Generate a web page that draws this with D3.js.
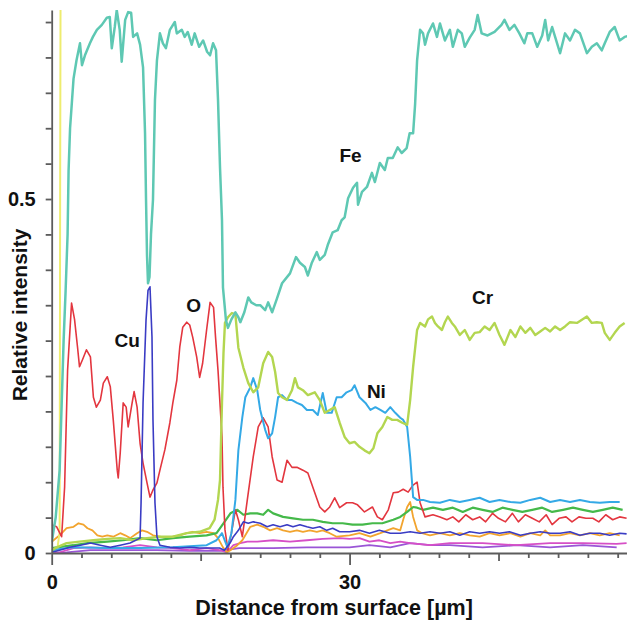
<!DOCTYPE html>
<html>
<head>
<meta charset="utf-8">
<script src="https://cdn.jsdelivr.net/npm/d3@7"></script>
<style>
body { margin: 0; background: #fff; }
text { font-family: "Liberation Sans", Arial, sans-serif; font-weight: bold; fill: #111; }
</style>
</head>
<body>
<svg id="wrapper"></svg>
<script>
// element names and the label spot for each (labels only where the source has one)
let seriesNames = ['Fe', 'O', 'Cu', 'Cr', 'Ni', 'green', 'orange', 'magenta', 'purple', 'yellow'];
let labelNames = ['Fe', 'Cu', 'O', 'Ni', 'Cr'];
let labelPos = [[30.1, 0.561], [7.6, 0.30], [14.3, 0.35], [32.7, 0.228], [43.4, 0.361]];

// axis ticks
let xTicks = [0, 3, 6, 9, 12, 15, 18, 21, 24, 27, 30, 33, 36, 39, 42, 45, 48, 51, 54, 57];
let xTickLabels = [0, 30];
let yTicks = [0, 0.05, 0.1, 0.15, 0.2, 0.25, 0.3, 0.35, 0.4, 0.45, 0.5, 0.55, 0.6, 0.65, 0.7, 0.75];
let yTickLabels = [0, 0.5];

// line scan values [distance um, relative intensity]
let feData = [[0,0.015],[0.4,0.05],[0.8,0.117],[1.2,0.30],[1.4,0.37],[1.6,0.45],[1.7,0.54],[1.85,0.60],[2.05,0.64],[2.2,0.67],[2.5,0.696],[2.85,0.72],[3.05,0.689],[3.35,0.703],[3.85,0.72],[4.15,0.729],[4.55,0.739],[5.05,0.746],[5.55,0.756],[5.85,0.757],[6.05,0.713],[6.35,0.743],[6.55,0.767],[6.85,0.739],[7.05,0.694],[7.4,0.753],[7.7,0.764],[8.0,0.763],[8.2,0.729],[8.6,0.734],[8.9,0.718],[9.2,0.686],[9.4,0.593],[9.5,0.499],[9.6,0.42],[9.7,0.381],[9.85,0.39],[10.0,0.45],[10.2,0.499],[10.4,0.640],[10.6,0.696],[10.9,0.734],[11.2,0.720],[11.5,0.713],[11.9,0.739],[12.4,0.750],[12.6,0.734],[13.1,0.739],[13.4,0.729],[13.7,0.736],[14.1,0.718],[14.4,0.734],[14.85,0.715],[15.25,0.724],[15.65,0.708],[15.95,0.703],[16.25,0.720],[16.55,0.710],[16.75,0.640],[16.95,0.545],[17.15,0.47],[17.25,0.375],[17.55,0.329],[17.75,0.318],[18.1,0.33],[18.5,0.340],[18.8,0.333],[19.0,0.326],[19.4,0.340],[19.8,0.361],[20.1,0.354],[20.6,0.350],[21.0,0.350],[21.5,0.343],[21.8,0.354],[22.2,0.340],[22.7,0.360],[23.2,0.381],[24.0,0.395],[24.6,0.418],[25.0,0.410],[25.5,0.404],[25.8,0.392],[26.2,0.410],[26.7,0.425],[27.0,0.414],[27.5,0.421],[27.8,0.435],[28.3,0.453],[28.8,0.456],[29.2,0.470],[29.5,0.474],[29.85,0.501],[30.35,0.516],[30.75,0.523],[30.85,0.492],[31.25,0.510],[31.75,0.517],[32.25,0.537],[32.55,0.524],[33.05,0.551],[33.55,0.541],[33.85,0.558],[34.35,0.558],[34.85,0.573],[35.25,0.565],[35.75,0.572],[36.05,0.593],[36.4,0.593],[36.6,0.634],[36.8,0.696],[37.1,0.739],[37.4,0.734],[37.6,0.718],[37.9,0.734],[38.4,0.748],[38.8,0.729],[39.1,0.748],[39.6,0.724],[40.1,0.739],[40.4,0.715],[40.9,0.739],[41.3,0.734],[41.6,0.715],[42.1,0.728],[42.6,0.739],[42.9,0.760],[43.3,0.734],[43.9,0.731],[44.6,0.736],[45.3,0.746],[45.6,0.753],[46.1,0.739],[46.6,0.746],[47.1,0.734],[47.6,0.720],[47.9,0.734],[48.4,0.734],[48.9,0.715],[49.4,0.731],[49.7,0.753],[50.0,0.724],[50.4,0.743],[50.7,0.729],[51.2,0.706],[51.7,0.734],[52.2,0.724],[52.7,0.739],[53.2,0.734],[53.9,0.706],[54.4,0.715],[54.9,0.720],[55.4,0.710],[55.7,0.720],[56.2,0.736],[56.7,0.743],[57.2,0.724],[57.7,0.729],[58,0.73]];

let oData = [[0,0.040],[0.5,0.037],[1.0,0.023],[1.3,0.093],[1.6,0.258],[2.0,0.353],[2.3,0.330],[2.6,0.291],[2.8,0.263],[3.1,0.273],[3.5,0.287],[3.9,0.277],[4.2,0.220],[4.5,0.206],[4.9,0.216],[5.2,0.240],[5.6,0.249],[5.9,0.235],[6.2,0.188],[6.6,0.117],[6.7,0.106],[6.9,0.141],[7.2,0.212],[7.5,0.206],[7.7,0.178],[8.1,0.212],[8.3,0.228],[8.6,0.206],[8.9,0.155],[9.2,0.127],[9.6,0.099],[9.9,0.079],[10.2,0.089],[10.6,0.099],[10.9,0.117],[11.4,0.146],[11.9,0.184],[12.2,0.212],[12.6,0.244],[12.9,0.291],[13.2,0.319],[13.6,0.326],[13.9,0.322],[14.2,0.305],[14.6,0.277],[14.9,0.248],[15.2,0.268],[15.6,0.315],[15.95,0.354],[16.3,0.347],[16.5,0.305],[16.75,0.258],[17.15,0.164],[17.25,0.093],[17.45,0.033],[17.75,0.004],[18.1,0.028],[18.5,0.061],[18.8,0.047],[19.2,0.023],[19.7,0.075],[20.3,0.136],[20.8,0.178],[21.3,0.191],[21.8,0.178],[22.2,0.136],[22.7,0.103],[23.2,0.100],[23.7,0.131],[24.2,0.121],[24.7,0.121],[25.3,0.117],[25.8,0.113],[26.3,0.093],[27.0,0.065],[27.5,0.058],[28.0,0.065],[28.5,0.078],[29.0,0.064],[29.7,0.071],[30.3,0.071],[30.8,0.068],[31.5,0.058],[32.3,0.065],[32.8,0.051],[33.3,0.047],[33.9,0.061],[34.4,0.085],[34.9,0.086],[35.4,0.090],[35.9,0.086],[36.4,0.096],[36.8,0.100],[37.1,0.071],[37.6,0.051],[38.4,0.054],[39.1,0.051],[39.8,0.047],[40.4,0.051],[41.0,0.044],[41.7,0.054],[42.4,0.047],[43.1,0.051],[43.7,0.044],[44.4,0.056],[45.0,0.049],[45.7,0.044],[46.4,0.056],[47.0,0.044],[47.7,0.054],[48.4,0.049],[49.1,0.044],[49.8,0.054],[50.4,0.040],[51.1,0.049],[51.8,0.051],[52.4,0.044],[53.1,0.051],[53.8,0.049],[54.5,0.049],[55.1,0.044],[55.8,0.054],[56.5,0.047],[57.2,0.051],[57.9,0.049]];

let cuData = [[0,0.001],[0.8,0.004],[1.8,0.008],[2.9,0.011],[3.9,0.014],[4.9,0.011],[5.9,0.008],[6.9,0.011],[7.9,0.014],[8.9,0.021],[9.0,0.071],[9.2,0.212],[9.5,0.329],[9.7,0.371],[9.9,0.376],[10.1,0.305],[10.2,0.188],[10.4,0.071],[10.6,0.023],[10.9,0.011],[11.9,0.008],[12.9,0.007],[13.9,0.008],[14.9,0.007],[15.9,0.007],[16.9,0.007],[17.4,0.004],[17.96,0.014],[18.3,0.023],[18.8,0.032],[19.3,0.044],[19.8,0.042],[20.3,0.044],[21.0,0.042],[21.7,0.037],[22.3,0.040],[23.0,0.037],[23.7,0.040],[24.3,0.037],[25.0,0.040],[25.7,0.037],[26.3,0.035],[27.0,0.037],[27.7,0.032],[28.3,0.035],[29.0,0.030],[30.0,0.030],[31.0,0.032],[32.0,0.028],[33.0,0.032],[34.1,0.028],[35.1,0.028],[36.1,0.030],[37.1,0.028],[38.1,0.030],[39.1,0.028],[40.1,0.030],[41.1,0.025],[42.1,0.030],[43.1,0.028],[44.1,0.030],[45.1,0.028],[46.1,0.030],[47.2,0.025],[48.2,0.028],[49.2,0.030],[50.2,0.028],[51.2,0.028],[52.2,0.030],[53.2,0.025],[54.2,0.028],[55.2,0.028],[56.2,0.025],[57.2,0.028],[57.9,0.027]];

let crData = [[0,0.004],[0.5,0.008],[1.5,0.014],[2.8,0.016],[4.2,0.018],[5.6,0.020],[6.9,0.021],[8.2,0.018],[9.6,0.021],[10.9,0.023],[12.2,0.023],[13.6,0.028],[14.9,0.030],[15.9,0.035],[16.4,0.047],[16.75,0.075],[16.95,0.103],[17.15,0.212],[17.3,0.282],[17.45,0.325],[17.75,0.333],[18.15,0.339],[18.5,0.337],[18.8,0.290],[19.3,0.262],[19.8,0.240],[20.3,0.227],[20.8,0.234],[21.3,0.268],[21.8,0.284],[22.2,0.277],[22.5,0.256],[22.8,0.226],[23.2,0.220],[23.7,0.216],[24.2,0.230],[24.5,0.247],[24.8,0.234],[25.3,0.230],[25.8,0.223],[26.5,0.227],[27.0,0.216],[27.5,0.198],[28.0,0.202],[28.5,0.206],[29.0,0.184],[29.5,0.164],[30.0,0.155],[30.5,0.157],[31.0,0.150],[31.5,0.145],[32.0,0.141],[32.4,0.148],[32.8,0.169],[33.3,0.178],[33.8,0.192],[34.3,0.188],[34.8,0.188],[35.3,0.184],[35.8,0.181],[36.1,0.216],[36.4,0.263],[36.8,0.315],[37.1,0.325],[37.6,0.320],[37.9,0.330],[38.3,0.334],[38.6,0.325],[38.9,0.320],[39.3,0.315],[39.6,0.326],[39.9,0.334],[40.3,0.325],[40.6,0.320],[41.1,0.308],[41.6,0.315],[42.1,0.301],[42.6,0.311],[43.1,0.312],[43.6,0.320],[44.1,0.315],[44.6,0.325],[45.1,0.308],[45.6,0.294],[46.2,0.315],[46.7,0.305],[47.2,0.320],[47.7,0.311],[48.2,0.318],[48.7,0.308],[49.2,0.313],[49.7,0.318],[50.2,0.313],[50.7,0.320],[51.2,0.315],[51.7,0.320],[52.2,0.326],[52.9,0.325],[53.9,0.334],[54.4,0.325],[54.9,0.326],[55.4,0.325],[55.7,0.311],[56.2,0.301],[56.7,0.311],[57.2,0.320],[57.7,0.325]];

let niData = [[0,0.004],[2.1,0.008],[5.6,0.007],[8.9,0.007],[12.2,0.008],[15.6,0.011],[16.6,0.018],[17.15,0.028],[17.7,0.008],[18.1,0.028],[18.5,0.075],[18.8,0.145],[19.2,0.192],[19.5,0.220],[20.0,0.234],[20.3,0.247],[20.7,0.230],[21.0,0.202],[21.5,0.174],[21.8,0.162],[22.2,0.169],[22.5,0.192],[22.8,0.220],[23.2,0.223],[23.7,0.216],[24.2,0.216],[24.7,0.212],[25.2,0.209],[25.7,0.202],[26.3,0.202],[26.8,0.195],[27.3,0.226],[27.7,0.198],[28.2,0.198],[28.7,0.220],[29.2,0.220],[29.7,0.227],[30.2,0.230],[30.5,0.237],[31.0,0.220],[31.6,0.212],[32.1,0.202],[32.6,0.206],[33.1,0.202],[33.6,0.198],[34.1,0.206],[34.6,0.198],[35.1,0.191],[35.4,0.188],[35.8,0.178],[36.1,0.136],[36.4,0.079],[36.8,0.075],[37.4,0.075],[38.1,0.072],[39.1,0.071],[40.1,0.075],[41.1,0.072],[42.1,0.075],[43.1,0.078],[44.1,0.072],[45.1,0.075],[46.2,0.072],[47.2,0.071],[48.2,0.075],[49.2,0.078],[50.2,0.072],[51.2,0.075],[52.2,0.072],[53.2,0.075],[54.2,0.072],[55.2,0.071],[56.2,0.072],[57.2,0.072]];

let greenData = [[0,0.007],[2.2,0.011],[3.6,0.014],[5.6,0.016],[7.2,0.018],[8.9,0.021],[10.6,0.018],[12.2,0.021],[13.9,0.023],[15.6,0.025],[16.6,0.028],[17.3,0.042],[18.0,0.056],[18.7,0.061],[19.3,0.054],[20.0,0.056],[20.7,0.056],[21.3,0.054],[21.8,0.061],[22.3,0.056],[23.3,0.051],[24.3,0.049],[25.3,0.047],[26.3,0.047],[27.3,0.044],[28.3,0.042],[29.3,0.042],[30.3,0.040],[31.3,0.040],[32.3,0.042],[33.3,0.042],[34.4,0.047],[35.1,0.051],[35.8,0.058],[36.4,0.065],[36.8,0.064],[37.4,0.061],[38.4,0.064],[39.4,0.061],[40.4,0.064],[41.4,0.058],[42.4,0.064],[43.4,0.061],[44.4,0.058],[45.4,0.064],[46.4,0.061],[47.4,0.058],[48.4,0.061],[49.4,0.064],[50.4,0.058],[51.5,0.061],[52.5,0.064],[53.5,0.061],[54.5,0.058],[55.5,0.061],[56.5,0.064],[57.5,0.061]];

let orangeData = [[0,0.016],[0.8,0.025],[1.5,0.035],[2.2,0.037],[2.7,0.042],[3.2,0.040],[3.6,0.035],[4.1,0.032],[4.6,0.025],[5.1,0.023],[5.6,0.025],[6.2,0.023],[6.9,0.028],[7.4,0.025],[7.9,0.021],[8.6,0.028],[9.1,0.032],[9.6,0.030],[10.2,0.025],[10.9,0.023],[11.6,0.021],[12.2,0.023],[12.9,0.025],[13.6,0.028],[14.2,0.030],[14.9,0.028],[15.6,0.030],[16.3,0.028],[16.75,0.021],[17.25,0.008],[17.65,0.001],[18.0,0.004],[18.7,0.011],[19.2,0.018],[19.5,0.025],[20.0,0.037],[20.7,0.040],[21.3,0.037],[22.0,0.032],[22.7,0.035],[23.3,0.032],[24.0,0.030],[24.7,0.032],[25.3,0.030],[26.0,0.032],[26.7,0.030],[27.3,0.032],[28.0,0.028],[28.7,0.023],[30.0,0.025],[31.0,0.028],[32.1,0.023],[33.1,0.028],[33.8,0.032],[34.4,0.035],[35.1,0.032],[35.4,0.047],[35.8,0.065],[36.1,0.072],[36.4,0.051],[36.8,0.032],[37.3,0.028],[38.1,0.025],[39.1,0.028],[40.1,0.025],[41.1,0.028],[42.1,0.025],[43.1,0.023],[44.1,0.028],[45.1,0.025],[46.2,0.028],[47.2,0.023],[48.2,0.028],[49.2,0.025],[49.7,0.032],[50.2,0.025],[51.2,0.025],[52.2,0.028],[53.2,0.025],[54.2,0.028],[55.2,0.025],[56.2,0.028],[57.2,0.025]];

let magentaData = [[0,0.0],[0.8,0.001],[2.2,0.007],[3.9,0.008],[5.6,0.007],[7.2,0.008],[8.9,0.011],[10.6,0.008],[12.2,0.007],[13.9,0.004],[15.6,0.007],[16.9,0.004],[17.65,0.001],[18.3,0.011],[19.0,0.014],[19.7,0.016],[20.7,0.016],[22.3,0.018],[24.0,0.016],[25.7,0.018],[27.3,0.020],[29.0,0.021],[30.0,0.020],[31.0,0.021],[32.0,0.016],[33.0,0.018],[34.1,0.014],[35.1,0.016],[36.1,0.014],[38.1,0.011],[40.1,0.014],[43.4,0.014],[46.8,0.011],[50.2,0.014],[53.5,0.014],[56.9,0.013],[57.9,0.014]];

let purpleData = [[0,0.0],[1.5,0.001],[3.9,0.004],[7.2,0.004],[10.6,0.004],[13.9,0.003],[16.9,0.003],[18.9,0.007],[22.3,0.007],[25.7,0.008],[28.0,0.008],[30.0,0.008],[32.0,0.011],[34.1,0.008],[36.1,0.014],[38.1,0.011],[40.1,0.011],[43.4,0.008],[46.8,0.011],[50.2,0.008],[53.5,0.011],[56.9,0.008]];

let yellowData = [[0,0.001],[0.55,0.004],[0.8,0.03],[0.85,0.5],[0.9,0.85]];

let width = 627, height = 624;

let svg = d3.select('#wrapper')
  .attr('width', width)
  .attr('height', height);

let xScale = d3.scaleLinear().domain([0, 58]).range([51.7, 627.6]);
let yScale = d3.scaleLinear().domain([0, 0.767]).range([553, 10]);

svg.append('clipPath').attr('id', 'plot-clip')
  .append('rect')
  .attr('x', xScale(0)).attr('y', yScale(0.767))
  .attr('width', xScale(58) - xScale(0))
  .attr('height', yScale(0) - yScale(0.767));

//one line per element, low traces first so the big ones sit on top
let series = [
  {name: 'purple', data: purpleData, color: '#9a55d6', w: 1.8},
  {name: 'magenta', data: magentaData, color: '#d64fc6', w: 1.8},
  {name: 'orange', data: orangeData, color: '#f2a42e', w: 1.8},
  {name: 'green', data: greenData, color: '#45b94a', w: 2.2},
  {name: 'yellow', data: yellowData, color: '#eeec6e', w: 2},
  {name: 'O', data: oData, color: '#e3363f', w: 1.6},
  {name: 'Ni', data: niData, color: '#34a9e6', w: 2},
  {name: 'Cr', data: crData, color: '#b3d650', w: 2.4},
  {name: 'Fe', data: feData, color: '#5ec8b3', w: 2.5},
  {name: 'Cu', data: cuData, color: '#3a3cc4', w: 1.6}
];

let line = d3.line()
  .x(function(d){ return xScale(d[0]); })
  .y(function(d){ return yScale(d[1]); });

let plot = svg.append('g').attr('clip-path', 'url(#plot-clip)');
plot.selectAll('path')
  .data(series)
  .enter().append('path')
  .attr('fill', 'none')
  .attr('stroke', function(d){ return d.color; })
  .attr('stroke-width', function(d){ return d.w; })
  .attr('stroke-linejoin', 'round')
  .attr('d', function(d){ return line(d.data); });

//axes
let xAxis = d3.axisBottom(xScale)
  .tickValues(xTicks)
  .tickSizeOuter(0)
  .tickFormat(function(d){ return xTickLabels.indexOf(d) >= 0 ? d : ''; });

let gx = svg.append('g')
  .attr('transform', 'translate(0,' + yScale(0) + ')')
  .call(xAxis);
gx.selectAll('.tick line')
  .attr('y2', function(d){ return d % 30 === 0 ? 12 : (d % 15 === 0 ? 8 : 5); });
gx.selectAll('.tick text').attr('y', 22);

let yAxis = d3.axisLeft(yScale)
  .tickValues(yTicks)
  .tickSize(6)
  .tickSizeOuter(0)
  .tickPadding(10)
  .tickFormat(function(d){ return yTickLabels.indexOf(d) >= 0 ? d : ''; });

let gy = svg.append('g')
  .attr('transform', 'translate(' + xScale(0) + ',0)')
  .call(yAxis);

svg.selectAll('.domain, .tick line')
  .attr('stroke', '#5c5c5c')
  .attr('stroke-width', 1.8);
svg.selectAll('.tick text')
  .attr('font-family', '"Liberation Sans", Arial, sans-serif')
  .attr('font-weight', 'bold')
  .attr('font-size', 20)
  .attr('fill', '#111');

svg.append('text')
  .attr('x', 334).attr('y', 615)
  .attr('text-anchor', 'middle')
  .attr('font-size', 21.5)
  .text('Distance from surface [µm]');

svg.append('text')
  .attr('transform', 'translate(27,315) rotate(-90)')
  .attr('text-anchor', 'middle')
  .attr('font-size', 21)
  .text('Relative intensity');

//element labels
svg.selectAll('.elem-label')
  .data(labelNames)
  .enter().append('text')
  .attr('class', 'elem-label')
  .attr('x', function(d, i){ return xScale(labelPos[i][0]); })
  .attr('y', function(d, i){ return yScale(labelPos[i][1]); })
  .attr('dy', '0.35em')
  .attr('text-anchor', 'middle')
  .attr('font-size', 19)
  .text(function(d){ return d; });
</script>
</body>
</html>
